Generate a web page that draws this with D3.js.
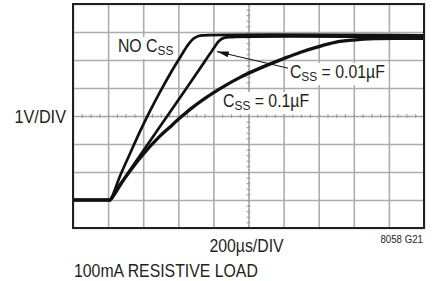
<!DOCTYPE html>
<html>
<head>
<script src="https://d3js.org/d3.v7.min.js"></script>
<style>
  body { margin: 0; background: #fff; }
  text { font-family: "Liberation Sans", Arial, sans-serif; fill: #231f20; }
</style>
</head>
<body>
<div id="chart"></div>
<script>
// time in µs (200µs/DIV), output in V (1V/DIV)
const noCssT = [0, 200, 211, 268, 325, 382, 439, 496, 553, 610, 655, 684, 712, 752, 2000];
const noCssV = [0, 0, 0, 0.86, 1.66, 2.45, 3.18, 3.86, 4.5, 5.09, 5.54, 5.75, 5.85, 5.88, 5.88];

const css001T = [0, 200, 211, 325, 439, 553, 667, 752, 803, 832, 860, 906, 2000];
const css001V = [0, 0, 0, 1.07, 2.11, 3.14, 4.18, 4.96, 5.43, 5.68, 5.79, 5.82, 5.82];

const css01T = [0, 200, 211, 268, 325, 399, 484, 553, 615, 678, 752, 838, 952, 1066, 1197, 1293, 1390, 1493, 1595, 1721, 1863, 2000];
const css01V = [0, 0, 0, 0.55, 1.04, 1.63, 2.21, 2.61, 2.96, 3.29, 3.63, 3.98, 4.38, 4.71, 5.04, 5.27, 5.46, 5.63, 5.71, 5.76, 5.77, 5.77];

const labelMain = ["NO C", "C", "C"];
const labelSub = ["SS", "SS", "SS"];
const labelRest = ["", " = 0.01µF", " = 0.1µF"];
const labelT = [256, 1236, 855];
const labelV = [5.29, 4.36, 3.32];

const arrowFrom = [1225, 4.71];
const arrowTo = [820, 5.3];

const margin = {top: 4, right: 14, bottom: 53, left: 73};
const width = 438 - margin.left - margin.right;
const height = 281 - margin.top - margin.bottom;
const squeeze = 0.88; // condensed type

const svg = d3.select("#chart").append("svg")
    .attr("width", 438)
    .attr("height", 281);

const g = svg.append("g")
    .attr("transform", "translate(" + margin.left + "," + margin.top + ")");

const x = d3.scaleLinear().domain([0, 2000]).range([0, width]);
const y = d3.scaleLinear().domain([-1, 7]).range([height, 0]);

// grid
g.append("g")
    .attr("transform", "translate(0," + height + ")")
    .call(d3.axisBottom(x).ticks(10).tickSize(-height).tickFormat(""))
    .call(a => a.select(".domain").remove())
    .call(a => a.selectAll("line").attr("stroke", "#adadad").attr("stroke-width", 1.6));

g.append("g")
    .call(d3.axisLeft(y).ticks(8).tickSize(-width).tickFormat(""))
    .call(a => a.select(".domain").remove())
    .call(a => a.selectAll("line").attr("stroke", "#adadad").attr("stroke-width", 1.6));

// center graticule with minor ticks
const xc = x(1000), yc = y(3);
g.append("g")
    .attr("transform", "translate(0," + yc + ")")
    .call(d3.axisBottom(x).ticks(50).tickSize(2).tickFormat(""))
    .call(a => a.select(".domain").attr("stroke", "#9a9a9a").attr("stroke-dasharray", "2,2"))
    .call(a => a.selectAll("line").attr("stroke", "#9a9a9a").attr("y1", -2));
g.append("g")
    .attr("transform", "translate(" + xc + ",0)")
    .call(d3.axisLeft(y).ticks(40).tickSize(2).tickFormat(""))
    .call(a => a.select(".domain").attr("stroke", "#9a9a9a").attr("stroke-dasharray", "2,2"))
    .call(a => a.selectAll("line").attr("stroke", "#9a9a9a").attr("x1", 2));

// label boxes sit under the traces
const boxLayer = g.append("g");

const line = d3.line()
    .x(d => x(d[0]))
    .y(d => y(d[1]))
    .curve(d3.curveCatmullRom.alpha(0.5));

const traces = [
  {t: css01T, v: css01V, w: 3.3},
  {t: css001T, v: css001V, w: 2.7},
  {t: noCssT, v: noCssV, w: 2.7}
];
traces.forEach(tr => {
  g.append("path")
      .datum(tr.t.map((t, i) => [t, tr.v[i]]))
      .attr("fill", "none")
      .attr("stroke", "#111")
      .attr("stroke-width", tr.w)
      .attr("stroke-linejoin", "round")
      .attr("d", line);
});

// frame
g.append("rect")
    .attr("width", width)
    .attr("height", height)
    .attr("fill", "none")
    .attr("stroke", "#231f20")
    .attr("stroke-width", 2);

// curve labels
labelMain.forEach((m, i) => {
  const tf = "translate(" + x(labelT[i]) + "," + y(labelV[i]) + ") scale(" + squeeze + ",1)";
  const t = g.append("text")
      .attr("transform", tf)
      .attr("font-size", 18);
  t.append("tspan").text(m);
  t.append("tspan").attr("font-size", 13.5).attr("dy", 3).text(labelSub[i]);
  if (labelRest[i]) t.append("tspan").attr("dy", -3).text(labelRest[i]);
  const b = t.node().getBBox();
  boxLayer.append("rect")
      .attr("transform", tf)
      .attr("x", b.x - 4).attr("y", b.y + 1)
      .attr("width", b.width + 8).attr("height", b.height)
      .attr("fill", "#fff");
});

// arrow
svg.append("defs").append("marker")
    .attr("id", "ah")
    .attr("viewBox", "0 0 12 6")
    .attr("refX", 12).attr("refY", 3)
    .attr("markerWidth", 12).attr("markerHeight", 6)
    .attr("markerUnits", "userSpaceOnUse")
    .attr("orient", "auto")
  .append("path")
    .attr("d", "M0,0L12,3L0,6Z")
    .attr("fill", "#111");

g.append("line")
    .attr("x1", x(arrowFrom[0])).attr("y1", y(arrowFrom[1]))
    .attr("x2", x(arrowTo[0])).attr("y2", y(arrowTo[1]))
    .attr("stroke", "#111")
    .attr("stroke-width", 1)
    .attr("marker-end", "url(#ah)");

// axis titles
function title(tx, ty, anchor, size, s) {
  svg.append("text")
      .attr("transform", "translate(" + tx + "," + ty + ") scale(" + squeeze + ",1)")
      .attr("text-anchor", anchor)
      .attr("font-size", size)
      .text(s);
}
title(66, margin.top + yc + 7, "end", 18.5, "1V/DIV");
title(margin.left + xc - 2, 252, "middle", 18, "200µs/DIV");
title(423, 243, "end", 11, "8058 G21");
title(74, 277, "start", 18, "100mA RESISTIVE LOAD");
</script>
</body>
</html>
